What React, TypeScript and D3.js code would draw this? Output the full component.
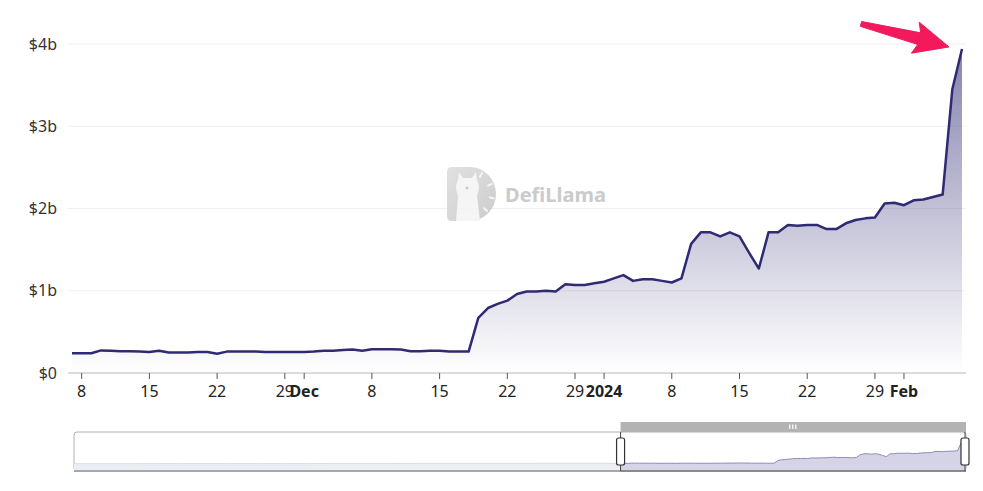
import React from 'react';
import * as d3 from 'd3';

// daily TVL in $b, Nov 7 2023 -> Feb 7 2024
const startDate = new Date(2023, 10, 7);
const tvlValues = [
  0.24, 0.24, 0.24, 0.275, 0.27, 0.265, 0.265, 0.26, 0.255, 0.27, 0.25, 0.25, 0.25, 0.255, 0.255, 0.235,
  0.26, 0.26, 0.26, 0.26, 0.255, 0.255, 0.255, 0.255,
  // Dec
  0.255, 0.26, 0.27, 0.27, 0.28, 0.285, 0.27, 0.29, 0.29, 0.29, 0.285, 0.265, 0.265, 0.27, 0.27, 0.26,
  0.26, 0.26, 0.67, 0.79, 0.84, 0.88, 0.96, 0.99, 0.99, 1.0, 0.99, 1.08, 1.07, 1.07, 1.09,
  // Jan
  1.11, 1.15, 1.19, 1.12, 1.14, 1.14, 1.12, 1.1, 1.15, 1.57, 1.71, 1.71, 1.66, 1.71, 1.66, 1.46,
  1.27, 1.71, 1.71, 1.8, 1.79, 1.8, 1.8, 1.75, 1.75, 1.82, 1.86, 1.88, 1.89, 2.06, 2.07,
  // Feb
  2.04, 2.1, 2.11, 2.14, 2.17, 3.45, 3.94,
];

// weekly history before the visible window, only shown in the zoom slider
const historyStart = new Date(2023, 5, 14);
const historyWeekly = [
  0.19, 0.19, 0.19, 0.2, 0.2, 0.2, 0.2, 0.2, 0.2, 0.2, 0.23, 0.23, 0.23, 0.24, 0.24, 0.24, 0.24, 0.24,
  0.25, 0.25, 0.25,
];

const tickDates = [
  '2023-11-08', '2023-11-15', '2023-11-22', '2023-11-29', '2023-12-01', '2023-12-08', '2023-12-15',
  '2023-12-22', '2023-12-29', '2024-01-01', '2024-01-08', '2024-01-15', '2024-01-22', '2024-01-29',
  '2024-02-01',
];
const tickLabels = ['8', '15', '22', '29', 'Dec', '8', '15', '22', '29', '2024', '8', '15', '22', '29', 'Feb'];
// month / year boundaries are drawn bold
const tickBold = [false, false, false, false, true, false, false, false, false, true, false, false, false, false, true];

const W = 983;
const H = 491;
const FONT = "'Segoe UI', 'Noto Sans', sans-serif";
const LINE = '#2f2a73';

const parse = d3.timeParse('%Y-%m-%d');

const App: React.FC = () => {
  const series = tvlValues.map((v, i) => ({ date: d3.timeDay.offset(startDate, i), value: v }));
  const history = historyWeekly.map((v, i) => ({ date: d3.timeWeek.offset(historyStart, i), value: v }));
  const full = [...history, ...series];
  const last = series[series.length - 1];

  const x = d3.scaleTime().domain([startDate, last.date]).range([72, 962]);
  const y = d3.scaleLinear().domain([0, 4]).range([373, 44]);
  const plotLeft = 68;
  const plotRight = 966;

  const line = d3.line<{ date: Date; value: number }>()
    .x(d => x(d.date))
    .y(d => y(d.value));
  const area = d3.area<{ date: Date; value: number }>()
    .x(d => x(d.date))
    .y0(y(0))
    .y1(d => y(d.value));

  const maxVal = d3.max(series, d => d.value) as number;

  // slider mini chart
  const sx = d3.scaleTime().domain([historyStart, last.date]).range([74, 965]);
  const ext = d3.extent(full, d => d.value) as [number, number];
  const pad = (ext[1] - ext[0]) * 0.3;
  const sy = d3.scaleLinear().domain([ext[0] - pad, ext[1] + pad]).range([471, 432]);
  const miniArea = d3.area<{ date: Date; value: number }>()
    .x(d => sx(d.date)).y0(471).y1(d => sy(d.value));
  const miniLine = d3.line<{ date: Date; value: number }>()
    .x(d => sx(d.date)).y(d => sy(d.value));
  const selX0 = sx(startDate);
  const selX1 = sx(last.date);

  const tipX = x(last.date) - 13;
  const tipY = y(last.value) - 2;
  // arrow pointing down-right at the last value
  const ux = 0.97, uy = 0.245, nx = -0.245, ny = 0.97;
  const tailX = tipX - 88, tailY = tipY - 23;
  const neckX = tailX + 60 * ux, neckY = tailY + 60 * uy;
  const arrowPts: [number, number][] = [
    [tailX - 2.5 * nx, tailY - 2.5 * ny],
    [neckX - 6 * nx, neckY - 6 * ny],
    [neckX - 4 * ux - 16 * nx, neckY - 4 * uy - 16 * ny],
    [tipX, tipY],
    [neckX - 4 * ux + 16 * nx, neckY - 4 * uy + 16 * ny],
    [neckX + 6 * nx, neckY + 6 * ny],
    [tailX + 2.5 * nx, tailY + 2.5 * ny],
  ];

  return (
    <svg width={W} height={H} style={{ position: 'absolute', left: 0, top: 0, fontFamily: FONT }}>
      <defs>
        <linearGradient id="areaFill" gradientUnits="userSpaceOnUse" x1="0" x2="0" y1={y(maxVal)} y2={y(0)}>
          <stop offset="0%" stopColor={LINE} stopOpacity={0.58} />
          <stop offset="100%" stopColor={LINE} stopOpacity={0} />
        </linearGradient>
        <linearGradient id="logoFill" x1="0" x2="1" y1="0" y2="1">
          <stop offset="0%" stopColor="#dedede" />
          <stop offset="100%" stopColor="#c8c8c8" />
        </linearGradient>
        <clipPath id="selClip">
          <rect x={selX0} y={420} width={selX1 - selX0 + 2} height={60} />
        </clipPath>
        <clipPath id="unselClip">
          <rect x={70} y={420} width={selX0 - 70} height={60} />
        </clipPath>
      </defs>
      <rect width={W} height={H} fill="#fff" />

      {/* grid + y labels */}
      {y.ticks(4).map(v => (
        <g key={v}>
          {v > 0 && <line x1={plotLeft} x2={plotRight} y1={y(v)} y2={y(v)} stroke="#efefef" />}
          <text x={57} y={y(v)} dy="0.35em" textAnchor="end" fontSize={16} fill="#333">
            {v === 0 ? '$0' : `$${v}b`}
          </text>
        </g>
      ))}

      {/* watermark */}
      <g opacity={0.9}>
        <path d="M447,172 q0,-5 5,-5 h18 a26,27 0 0 1 0,54 h-18 q-5,0 -5,-5 z" fill="url(#logoFill)" />
        <path
          d="M456,221 L458,196 Q454,186 458,180 L459,172 L463,178 h9 L476,172 L477,180 Q481,186 477,196 L480,221 Z"
          fill="#f4f4f4"
        />
        <circle cx={467} cy={188} r={1.5} fill="#c4c4c4" />
        {[-60, -25, 10, 45].map(a => {
          const r1 = 20, r2 = 24, cx = 470, cy = 194, t = (a * Math.PI) / 180;
          return (
            <line key={a} x1={cx + r1 * Math.cos(t)} y1={cy + r1 * Math.sin(t)}
              x2={cx + r2 * Math.cos(t)} y2={cy + r2 * Math.sin(t)} stroke="#f4f4f4" strokeWidth={2} strokeLinecap="round" />
          );
        })}
        <text x={505} y={202} fontSize={20} fontWeight={700} fill="#c6c6c6" fontFamily="'Noto Sans', sans-serif">
          DefiLlama
        </text>
      </g>

      {/* area + line */}
      <path d={area(series) ?? ''} fill="url(#areaFill)" />
      <path d={line(series) ?? ''} fill="none" stroke={LINE} strokeWidth={2.5} strokeLinejoin="round" />

      {/* x axis */}
      <line x1={plotLeft} x2={plotRight} y1={373} y2={373} stroke="#b8b8b8" />
      {tickDates.map((d, i) => {
        const px = x(parse(d) as Date);
        return (
          <g key={d}>
            <line x1={px} x2={px} y1={373} y2={379} stroke="#555" />
            <text x={px} y={397} textAnchor="middle" fontSize={16} fontWeight={tickBold[i] ? 700 : 400} fill="#222">
              {tickLabels[i]}
            </text>
          </g>
        );
      })}

      {/* arrow annotation */}
      <polygon points={arrowPts.map(p => p.join(',')).join(' ')} fill="#f2195c" stroke="#f2195c" strokeWidth={1} strokeLinejoin="round" />

      {/* data zoom slider */}
      <rect x={74} y={432} width={892} height={39} rx={3} fill="#fff" stroke="#b0b0b0" />
      <g clipPath="url(#unselClip)">
        <path d={miniArea(full) ?? ''} fill="#eceef5" />
        <path d={miniLine(full) ?? ''} fill="none" stroke="#d9dceb" />
      </g>
      <g clipPath="url(#selClip)">
        <path d={miniArea(full) ?? ''} fill="#d5d4e7" />
        <path d={miniLine(full) ?? ''} fill="none" stroke="#8e8bb6" />
      </g>
      <line x1={74} x2={966} y1={471} y2={471} stroke="#a8a8a8" strokeWidth={2} />
      <line x1={selX0} x2={selX1 + 1} y1={471} y2={471} stroke="#8a8a8a" strokeWidth={2} />
      <rect x={selX0} y={422} width={selX1 - selX0 + 1} height={10} fill="#b3b3b3" />
      {[-3, 0, 3].map(o => (
        <rect key={o} x={(selX0 + selX1) / 2 + o - 0.6} y={424.5} width={1.2} height={4.5} fill="#fff" />
      ))}
      {[selX0, selX1].map((hx, i) => (
        <g key={i}>
          <line x1={hx} x2={hx} y1={432} y2={471} stroke="#444" />
          <rect x={hx - 4} y={438} width={8} height={27} rx={2} fill="#fff" stroke="#333" strokeWidth={1.2} />
        </g>
      ))}
    </svg>
  );
};

export default App;
